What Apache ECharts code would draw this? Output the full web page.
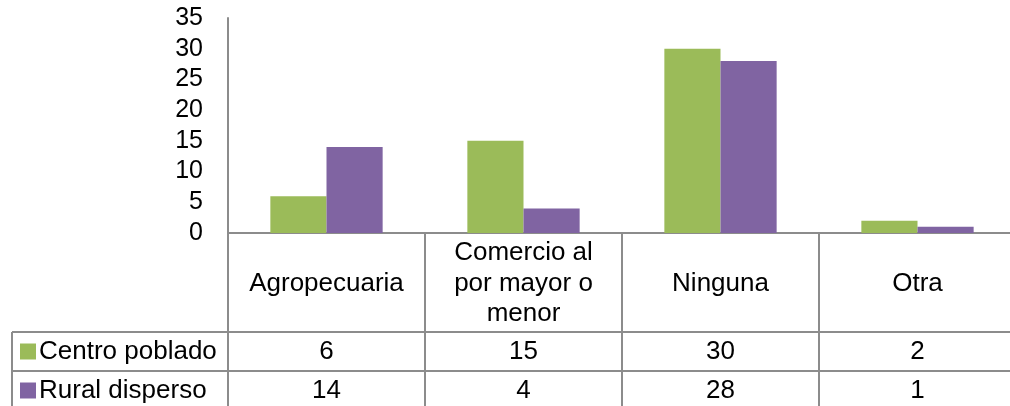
<!DOCTYPE html>
<html>
<head>
<meta charset="utf-8">
<script src="https://cdn.jsdelivr.net/npm/echarts@6/dist/echarts.min.js"></script>
<style>
  html, body { margin: 0; padding: 0; background: #fff; overflow: hidden; }
  #chart { width: 1016px; height: 406px; }
</style>
</head>
<body>
<div id="chart"></div>
<script>
// datos de la tabla
var categorias = ['Agropecuaria', 'Comercio al\npor mayor o\nmenor', 'Ninguna', 'Otra'];
var nombresSeries = ['Centro poblado', 'Rural disperso'];
var centroPoblado = [6, 15, 30, 2];
var ruralDisperso = [14, 4, 28, 1];
var ejeY = { min: 0, max: 35, interval: 5 };

var fuente = "'Liberation Sans', Arial, sans-serif";
var gris = '#8c8c8c';
var tamLetra = 26;

// medidas de la tabla (pixeles); el lienzo es un poco mas ancho que la ventana
var gridLeft = 228, gridTop = 18, ceroY = 233;
var altoCabecera = 99, altoFila = 39, tablaX = 12;
var fila1Y = ceroY + altoCabecera;
var fila2Y = fila1Y + altoFila;

var myChart = echarts.init(document.getElementById('chart'), null, { renderer: 'canvas' });

var option = {
    animation: false,
    backgroundColor: '#fff',
    grid: {
        left: gridLeft,
        right: 0,
        top: gridTop,
        height: ceroY - gridTop,
        containLabel: false
    },
    legend: {
        orient: 'vertical',
        left: 20,
        top: fila1Y + altoFila / 2 - 13,
        padding: 0,
        itemGap: altoFila - 26,
        itemWidth: 16,
        itemHeight: 16,
        itemStyle: { borderWidth: 0 },
        icon: 'rect',
        selectedMode: false,
        textStyle: { fontFamily: fuente, fontSize: tamLetra, color: '#000', lineHeight: 26, padding: [0, 0, 0, -2] },
        data: nombresSeries
    },
    yAxis: {
        type: 'value',
        min: ejeY.min,
        max: ejeY.max,
        interval: ejeY.interval,
        axisLine: { show: true, lineStyle: { color: gris, width: 2 } },
        axisTick: { show: false },
        splitLine: { show: false },
        axisLabel: { fontFamily: fuente, fontSize: 25, color: '#000', margin: 25 }
    },
    xAxis: [
        {
            type: 'category',
            data: categorias,
            position: 'bottom',
            axisLine: { show: true, lineStyle: { color: gris, width: 2 } },
            axisTick: { show: true, length: 406 - ceroY, alignWithLabel: false, lineStyle: { color: gris, width: 2 } },
            axisLabel: {
                fontFamily: fuente, fontSize: tamLetra, color: '#000',
                lineHeight: 30.5, verticalAlign: 'middle', align: 'center',
                margin: altoCabecera / 2 + 1, interval: 0
            }
        },
        {
            type: 'category',
            data: categorias,
            position: 'bottom',
            offset: altoCabecera,
            axisLine: { show: true, lineStyle: { color: gris, width: 2 } },
            axisTick: { show: false },
            axisLabel: {
                fontFamily: fuente, fontSize: tamLetra, color: '#000',
                verticalAlign: 'middle', margin: altoFila / 2, interval: 0,
                formatter: function (v, i) { return String(centroPoblado[i]); }
            }
        },
        {
            type: 'category',
            data: categorias,
            position: 'bottom',
            offset: altoCabecera + altoFila,
            axisLine: { show: true, lineStyle: { color: gris, width: 2 } },
            axisTick: { show: false },
            axisLabel: {
                fontFamily: fuente, fontSize: tamLetra, color: '#000',
                verticalAlign: 'middle', margin: altoFila / 2, interval: 0,
                formatter: function (v, i) { return String(ruralDisperso[i]); }
            }
        }
    ],
    // bordes de la columna de nombres
    graphic: [
        { type: 'line', shape: { x1: tablaX, y1: fila1Y, x2: gridLeft, y2: fila1Y }, style: { stroke: gris, lineWidth: 2 } },
        { type: 'line', shape: { x1: tablaX, y1: fila2Y, x2: gridLeft, y2: fila2Y }, style: { stroke: gris, lineWidth: 2 } },
        { type: 'line', shape: { x1: tablaX, y1: fila1Y, x2: tablaX, y2: 406 }, style: { stroke: gris, lineWidth: 2 } }
    ],
    series: [
        {
            name: nombresSeries[0],
            type: 'bar',
            xAxisIndex: 0,
            data: centroPoblado,
            barGap: '0%',
            barCategoryGap: '43%',
            itemStyle: { color: '#9BBB59' }
        },
        {
            name: nombresSeries[1],
            type: 'bar',
            xAxisIndex: 0,
            data: ruralDisperso,
            barGap: '0%',
            barCategoryGap: '43%',
            itemStyle: { color: '#8064A2' }
        }
    ]
};
myChart.setOption(option);
</script>
</body>
</html>
